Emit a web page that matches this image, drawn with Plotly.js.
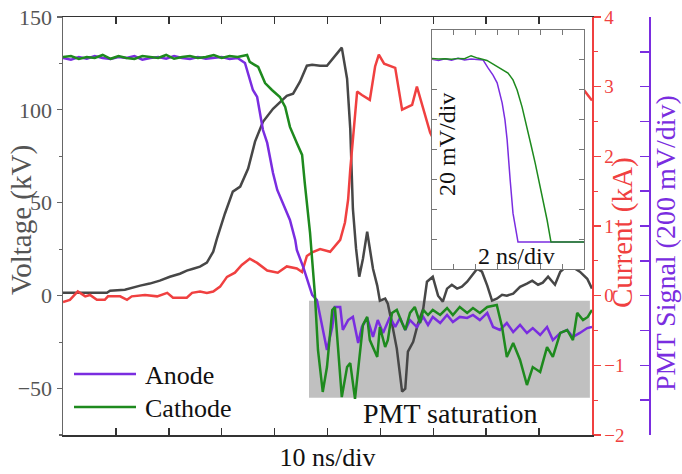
<!DOCTYPE html>
<html>
<head>
<meta charset="utf-8">
<script src="https://cdn.plot.ly/plotly-3.0.1.min.js"></script>
<style>html,body{margin:0;padding:0;background:#fff;}#chart{width:682px;height:474px;}</style>
</head>
<body>
<div id="chart"></div>
<script>
// ---- Main panel: voltage (kV) vs time (ns) ----
const voltageTime = [0,3.2,7.0,8.3,8.9,11.7,14.6,16.4,18.3,20.2,22.1,23.4,24.6,25.9,27.2,28.4,29.1,30.6,32.1,33.5,35.0,36.3,37.8,39.7,42.3,43.5,44.8,46.1,47.1,48.6,49.9,51.0,52.4,52.7,53.7,54.3,54.8,55.4,56.0,56.7,57.5,58.0,58.6,59.4,59.9,60.9,61.4,62.2,63.1,64.1,64.7,65.2,66.2,67.1,68.1,68.8,69.9,70.9,71.8,72.6,73.5,74.5,75.4,76.4,77.5,78.3,79.2,80.2,81.1,82.0,83.0,83.9,85.1,86.4,87.7,88.7,89.8,90.7,91.7,93.0,94.0,95.1,96.2,97.7,99.1,100];
const voltageKV = [1.6,1.6,1.6,1.6,2.7,3.2,5.4,6.5,8.1,10.2,11.8,13.5,14.5,15.6,17.8,23.7,30.7,44.1,56.0,58.7,68.4,82.9,93.6,100.6,107.6,108.7,115.2,123.8,124.3,123.8,123.8,127.6,131.9,133.5,116.8,89.9,46.8,25.3,10.2,19.9,34.4,25.3,14.5,5.4,-2.7,-1.6,-4.3,-15.1,-28.5,-51.7,-50.1,-30.1,-24.8,-15.1,-7.0,7.5,10.2,0,-3.2,3.8,5.9,3.8,4.8,7.5,11.3,14.5,12.9,5.4,-2.7,-1.6,0.5,0,1.1,4.8,6.5,8.1,5.9,7.0,10.2,5.9,12.9,15.6,15.6,12.9,9.1,3.8];

// ---- Current (kA) ----
const currentTime = [0,1.3,2.8,4.2,5.1,6.4,7.9,8.5,10.8,12.1,13.0,15.5,17.8,19.7,20.8,23.4,24.4,25.9,27.2,28.4,29.7,31.0,32.5,33.8,35.3,36.7,38.6,40.6,42.3,44.2,45.2,46.1,47.1,48.6,50.5,52.4,53.3,53.9,54.3,54.8,55.6,56.5,58.0,59.0,59.7,60.7,62.8,64.1,66.0,66.9,68.1,69.4,71.0,74.0,78.0,82.0,86.0,90.0,94.0,98.5,100];
const currentKA = [-0.09,-0.06,0.06,-0.01,0.01,-0.06,-0.06,-0.01,-0.01,-0.06,-0.01,0.01,-0.01,0.04,-0.03,-0.03,0.04,0.06,0.04,0.06,0.13,0.27,0.33,0.44,0.53,0.47,0.36,0.33,0.42,0.39,0.34,0.57,0.62,0.67,0.63,0.80,1.05,1.38,1.81,2.24,2.93,2.88,2.81,3.29,3.46,3.33,3.27,2.67,2.74,3.0,2.67,2.34,2.1,1.9,2.3,2.6,2.5,2.8,3.0,2.95,2.8];

// ---- PMT signals (mV) ----
const anodeTime = [0,1.5,3,4.5,6,7.5,9,10.5,12,13.5,15,16.5,18,19.5,21,22.5,24,25.5,27,28.5,30,31.5,33,34.4,35.9,36.7,37.8,38.6,39.7,40.5,41.6,42.9,43.9,44.2,45.4,47.1,48.0,49.0,49.9,50.9,51.4,52.4,52.9,53.9,54.8,55.8,56.5,57.5,58.6,59.5,60.5,61.8,62.8,63.7,64.7,65.6,66.9,68.1,69.0,69.9,71.3,72.6,73.7,75.0,76.4,77.5,78.8,80.2,81.3,82.6,83.9,85.1,86.4,87.7,88.8,90.2,91.5,92.6,94.0,95.3,96.4,97.7,99.1,100];
const anodeMV = [2165,2155,2170,2160,2176,2165,2159,2170,2165,2176,2155,2165,2170,2160,2176,2165,2159,2170,2160,2165,2170,2159,2165,2136,1981,1941,1751,1677,1504,1407,1332,1235,1120,1062,965,804,775,620,488,620,735,735,603,660,678,528,620,672,563,660,586,678,620,672,603,660,620,678,632,678,643,689,649,678,672,689,660,701,620,603,643,591,632,586,614,574,620,545,586,603,563,586,614,620];
const cathodeTime = [0,1.5,3,4.5,6,7.5,9,10.5,12,13.5,15,16.5,18,19.5,21,22.5,24,25.5,27,28.5,30,31.5,33,34.8,35.3,36.9,38.2,39.5,41.0,42.0,42.9,44.2,45.2,45.7,46.3,46.7,47.1,47.6,48.2,49.1,49.9,50.9,51.4,52.0,52.7,53.7,54.3,55.2,55.8,56.7,57.5,58.0,59.4,59.9,60.9,61.4,62.2,63.1,64.1,64.7,65.6,66.5,67.5,68.1,69.0,69.9,71.3,72.6,73.7,75.0,76.4,77.5,78.8,80.2,82.0,83.0,83.9,85.1,86.4,87.7,88.8,90.2,91.5,92.6,94.0,95.3,96.4,97.2,98.3,99.2,100];
const cathodeMV = [2170,2176,2159,2170,2165,2182,2160,2176,2165,2159,2176,2170,2165,2182,2160,2170,2176,2165,2170,2182,2165,2176,2170,2182,2142,2113,2021,1981,1941,1883,1769,1677,1608,1447,1292,1160,1005,815,488,247,390,718,735,488,218,390,413,207,390,632,678,545,448,620,505,545,701,718,643,603,701,735,643,718,689,718,689,729,689,735,701,729,701,735,746,620,448,528,431,287,390,362,505,448,586,603,545,701,660,678,718];

// ---- Inset (2 ns/div, 20 mV/div) ----
const insetAnodeT = [0,0.3,0.6,0.9,1.2,1.5,1.8,2.1,2.35,2.58,2.81,3.0,3.23,3.36,3.46,3.6,3.73,3.96,5,6,7];
const insetAnodeV = [7.02,6.98,7.04,6.99,7.05,7.0,7.03,7.02,7.0,6.73,6.49,6.23,5.56,4.99,4.32,2.98,1.87,0.9,0.9,0.9,0.9];
const insetCathodeT = [0,0.3,0.6,0.9,1.2,1.5,1.8,2.1,2.53,3.13,3.5,3.73,3.92,4.15,4.38,4.56,4.75,4.93,5.12,5.3,5.48,6,7];
const insetCathodeV = [7.05,7.03,7.04,7.02,7.05,7.04,7.14,7.06,6.98,6.73,6.56,6.33,5.99,5.42,4.75,4.15,3.55,2.91,2.31,1.64,0.9,0.9,0.9];

const legendNames = ['Anode','Cathode'];

const SERIF = 'Liberation Serif, Times New Roman, serif';
const PURPLE = '#7a2de0';
const GREEN = '#1e8a1e';
const RED = '#f04040';
const DARK = '#474747';

const traces = [
  {x: voltageTime, y: voltageKV, xaxis:'x', yaxis:'y', mode:'lines', line:{color:DARK, width:2.5}, name:'Voltage'},
  {x: currentTime, y: currentKA, xaxis:'x', yaxis:'y2', mode:'lines', line:{color:RED, width:2.5}, name:'Current'},
  {x: anodeTime, y: anodeMV, xaxis:'x', yaxis:'y3', mode:'lines', line:{color:PURPLE, width:2.5}, name:legendNames[0]},
  {x: cathodeTime, y: cathodeMV, xaxis:'x', yaxis:'y3', mode:'lines', line:{color:GREEN, width:2.5}, name:legendNames[1]},
  {x: insetAnodeT, y: insetAnodeV, xaxis:'x2', yaxis:'y4', mode:'lines', line:{color:PURPLE, width:1.5}, name:'Anode inset'},
  {x: insetCathodeT, y: insetCathodeV, xaxis:'x2', yaxis:'y4', mode:'lines', line:{color:GREEN, width:1.5}, name:'Cathode inset'}
];

// paper coordinates: x 63..650 px, y 17..435 px
const px = v => (v - 63) / 587;
const py = v => (435 - v) / 418;

const layout = {
  width: 682, height: 474,
  margin: {l:63, r:32, t:17, b:39, pad:0},
  paper_bgcolor: '#ffffff', plot_bgcolor: '#ffffff',
  showlegend: false,
  font: {family: SERIF, size: 20, color: '#222'},
  xaxis: {
    domain: [0, 0.9012], anchor: 'y', range: [0, 100], dtick: 10,
    ticks: 'inside', ticklen: 7, tickwidth: 1.5, tickcolor: '#333',
    showline: true, linecolor: '#333', linewidth: 1.5, mirror: 'ticks',
    showticklabels: false, showgrid: false, zeroline: false,
    title: {text: '10 ns/div', font: {family: SERIF, size: 26, color: '#111'}, standoff: 12}
  },
  yaxis: {
    range: [-75, 150], dtick: 50, ticks: 'outside', ticklen: 5, tickwidth: 1.2, tickcolor: '#666',
    minor: {dtick: 25, ticks: 'outside', ticklen: 3, tickcolor: '#666'},
    showline: true, linecolor: '#666', linewidth: 1.5,
    tickfont: {family: SERIF, size: 22, color: '#555'},
    showgrid: false, zeroline: false
  },
  yaxis2: {
    overlaying: 'y', side: 'right', anchor: 'x', range: [-2, 4], dtick: 1,
    ticks: 'outside', ticklen: 7, tickwidth: 1.2, tickcolor: RED,
    minor: {dtick: 0.5, ticks: 'outside', ticklen: 4, tickcolor: RED},
    showline: true, linecolor: RED, linewidth: 1.5,
    tickfont: {family: SERIF, size: 19, color: RED},
    showgrid: false, zeroline: false
  },
  yaxis3: {
    overlaying: 'y', side: 'right', anchor: 'free', position: 1,
    range: [0, 2400], dtick: 200, ticks: 'inside', ticklen: 9, tickwidth: 1.5, tickcolor: PURPLE,
    showline: true, linecolor: PURPLE, linewidth: 2,
    showticklabels: false, showgrid: false, zeroline: false
  },
  xaxis2: {
    domain: [px(432), px(584)], anchor: 'y4', range: [0, 7], dtick: 1,
    ticks: 'inside', ticklen: 5, tickcolor: '#777', mirror: 'ticks',
    showline: true, linecolor: '#777', linewidth: 1,
    showticklabels: false, showgrid: false, zeroline: false
  },
  yaxis4: {
    domain: [py(269), py(30)], anchor: 'x2', range: [0, 8], dtick: 1,
    ticks: 'inside', ticklen: 5, tickcolor: '#777', mirror: 'ticks',
    showline: true, linecolor: '#777', linewidth: 1,
    showticklabels: false, showgrid: false, zeroline: false
  },
  shapes: [
    {type:'rect', xref:'x', yref:'y', x0:46.5, x1:99.6, y0:-54.9, y1:-2.7, fillcolor:'#c0c0c0', line:{width:0}, layer:'below'},
    {type:'line', xref:'paper', yref:'paper', x0:px(74), x1:px(136), y0:py(374), y1:py(374), line:{color:PURPLE, width:2.5}},
    {type:'line', xref:'paper', yref:'paper', x0:px(74), x1:px(136), y0:py(407), y1:py(407), line:{color:GREEN, width:2.5}}
  ],
  annotations: [
    {xref:'paper', yref:'paper', x:px(143), y:py(375), xanchor:'left', yanchor:'middle', showarrow:false,
     text:legendNames[0], font:{family:SERIF, size:26, color:'#111'}},
    {xref:'paper', yref:'paper', x:px(143), y:py(408), xanchor:'left', yanchor:'middle', showarrow:false,
     text:legendNames[1], font:{family:SERIF, size:26, color:'#111'}},
    {xref:'x', yref:'y', x:73.2, y:-63.5, xanchor:'center', yanchor:'middle', showarrow:false,
     text:'PMT saturation', font:{family:SERIF, size:28, color:'#111'}},
    {xref:'paper', yref:'paper', x:px(447), y:py(145), xanchor:'center', yanchor:'middle', showarrow:false, textangle:-90,
     text:'20 mV/div', font:{family:SERIF, size:24, color:'#111'}},
    {xref:'paper', yref:'paper', x:px(516), y:py(256), xanchor:'center', yanchor:'middle', showarrow:false,
     text:'2 ns/div', font:{family:SERIF, size:24, color:'#111'}},
    {xref:'paper', yref:'paper', x:px(21), y:py(220), xanchor:'center', yanchor:'middle', showarrow:false, textangle:-90,
     text:'Voltage (kV)', font:{family:SERIF, size:29, color:'#555'}},
    {xref:'paper', yref:'paper', x:px(622), y:py(233), xanchor:'center', yanchor:'middle', showarrow:false, textangle:-90,
     text:'Current (kA)', font:{family:SERIF, size:29, color:RED}},
    {xref:'paper', yref:'paper', x:px(665), y:py(243), xanchor:'center', yanchor:'middle', showarrow:false, textangle:-90,
     text:'PMT Signal (200 mV/div)', font:{family:SERIF, size:28, color:PURPLE}}
  ]
};

Plotly.newPlot('chart', traces, layout, {displayModeBar:false, staticPlot:true});
</script>
</body>
</html>
